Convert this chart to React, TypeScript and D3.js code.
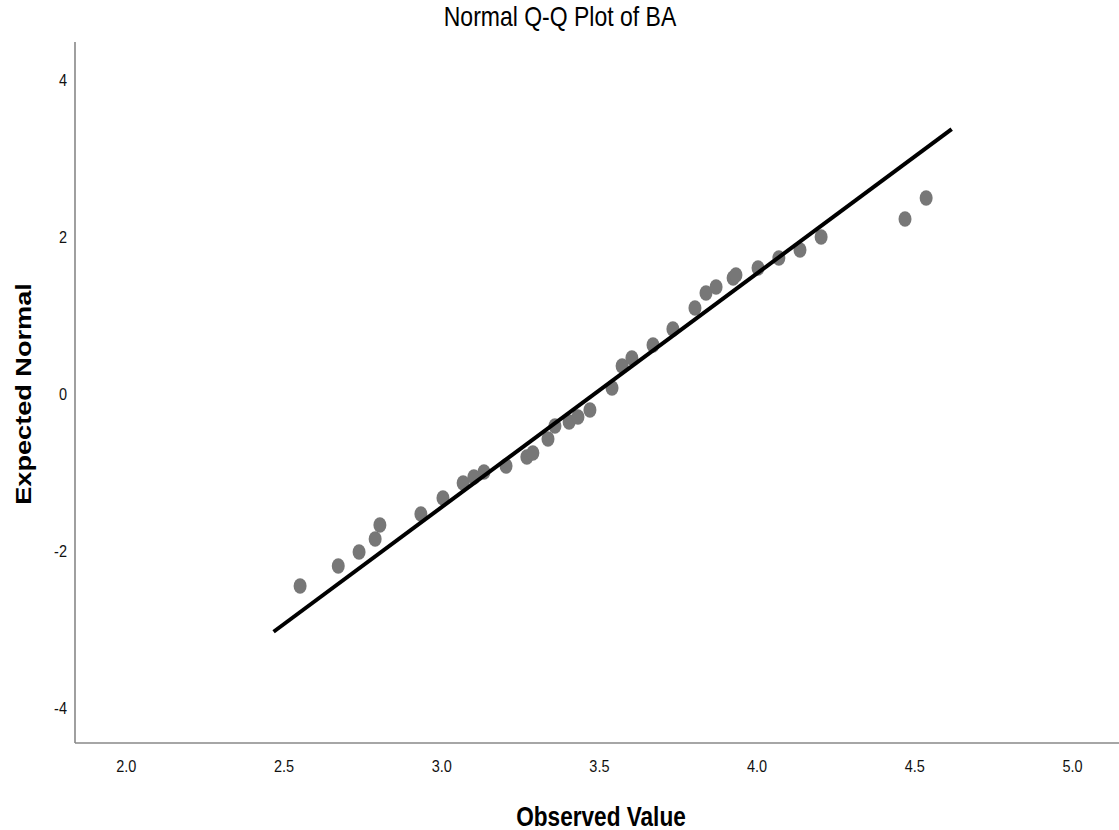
import React, { useEffect, useRef } from "react";
import * as d3 from "d3";

const observed = [
  2.551, 2.672, 2.738, 2.789, 2.804, 2.934, 3.004, 3.068, 3.102, 3.134,
  3.204, 3.27, 3.289, 3.337, 3.359, 3.404, 3.432, 3.47, 3.54, 3.572,
  3.603, 3.67, 3.733, 3.803, 3.838, 3.87, 3.924, 3.933, 4.003, 4.069,
  4.136, 4.203, 4.469, 4.536,
];
const expected = [
  -2.446, -2.191, -2.013, -1.847, -1.669, -1.529, -1.325, -1.134, -1.057, -0.994,
  -0.917, -0.803, -0.752, -0.573, -0.408, -0.357, -0.293, -0.204, 0.076, 0.357,
  0.459, 0.624, 0.828, 1.096, 1.287, 1.363, 1.478, 1.516, 1.605, 1.732,
  1.834, 2.0, 2.229, 2.497,
];
const xTicks = [2.0, 2.5, 3.0, 3.5, 4.0, 4.5, 5.0];
const yTicks = [-4, -2, 0, 2, 4];
const xDomain = [1.8373, 5.1475];
const yDomain = [-4.446, 4.484];
// Reference line: expected = (observed - mean) / sd
const lineMean = 3.484;
const lineSd = 0.3358;
const lineRange = [2.467, 4.617];

const title = "Normal Q-Q Plot of BA";
const xTitle = "Observed Value";
const yTitle = "Expected Normal";

const W = 1119;
const H = 830;
const FONT = "'Liberation Sans', Arial, Helvetica, sans-serif";
const VS = 1.2; // vertical stretch of the text glyphs

export default function App() {
  const ref = useRef<SVGSVGElement | null>(null);

  useEffect(() => {
    const svg = d3.select(ref.current);
    svg.selectAll("*").remove();

    const x = d3.scaleLinear().domain(xDomain).range([75, 1119]);
    const y = d3.scaleLinear().domain(yDomain).range([743, 42]);

    svg.append("rect").attr("width", W).attr("height", H).attr("fill", "#fff");

    // title
    svg
      .append("text")
      .attr("transform", `translate(560,26) scale(1,${VS})`)
      .attr("text-anchor", "middle")
      .attr("font-family", FONT)
      .attr("font-size", 23)
      .attr("fill", "#000")
      .text(title);

    // axis lines
    svg
      .append("line")
      .attr("x1", x(xDomain[0]))
      .attr("x2", x(xDomain[1]))
      .attr("y1", y(yDomain[0]))
      .attr("y2", y(yDomain[0]))
      .attr("stroke", "#888")
      .attr("stroke-width", 1.6);
    svg
      .append("line")
      .attr("x1", x(xDomain[0]))
      .attr("x2", x(xDomain[0]))
      .attr("y1", y(yDomain[0]))
      .attr("y2", y(yDomain[1]))
      .attr("stroke", "#888")
      .attr("stroke-width", 1.6);

    // tick labels
    svg
      .append("g")
      .selectAll("text")
      .data(xTicks)
      .join("text")
      .attr("transform", (d) => `translate(${x(d)},772) scale(1,${VS})`)
      .attr("text-anchor", "middle")
      .attr("font-family", FONT)
      .attr("font-size", 14.5)
      .attr("fill", "#111")
      .text((d) => d.toFixed(1));
    svg
      .append("g")
      .selectAll("text")
      .data(yTicks)
      .join("text")
      .attr("transform", (d) => `translate(67,${y(d) + 6}) scale(1,${VS})`)
      .attr("text-anchor", "end")
      .attr("font-family", FONT)
      .attr("font-size", 14.5)
      .attr("fill", "#111")
      .text((d) => String(d));

    // axis titles
    svg
      .append("text")
      .attr("transform", `translate(601,826) scale(1,${VS})`)
      .attr("text-anchor", "middle")
      .attr("font-family", FONT)
      .attr("font-size", 22.6)
      .attr("font-weight", "bold")
      .attr("fill", "#000")
      .text(xTitle);
    svg
      .append("text")
      .attr("transform", `translate(31,394) scale(1,${VS}) rotate(-90)`)
      .attr("text-anchor", "middle")
      .attr("font-family", FONT)
      .attr("font-size", 22.6)
      .attr("font-weight", "bold")
      .attr("fill", "#000")
      .text(yTitle);

    // points
    const data = observed.map((v, i) => ({ o: v, e: expected[i] }));
    svg
      .append("g")
      .selectAll("ellipse")
      .data(data)
      .join("ellipse")
      .attr("cx", (d) => x(d.o))
      .attr("cy", (d) => y(d.e))
      .attr("rx", 6.5)
      .attr("ry", 7.8)
      .attr("fill", "#777");

    // reference line
    const lineData = lineRange.map((v) => ({ o: v, e: (v - lineMean) / lineSd }));
    const line = d3
      .line<{ o: number; e: number }>()
      .x((d) => x(d.o))
      .y((d) => y(d.e));
    svg
      .append("path")
      .attr("d", line(lineData) as string)
      .attr("stroke", "#000")
      .attr("stroke-width", 4)
      .attr("fill", "none");
  }, []);

  return (
    <svg
      ref={ref}
      width={W}
      height={H}
      style={{ position: "absolute", left: 0, top: 0, display: "block" }}
    />
  );
}
